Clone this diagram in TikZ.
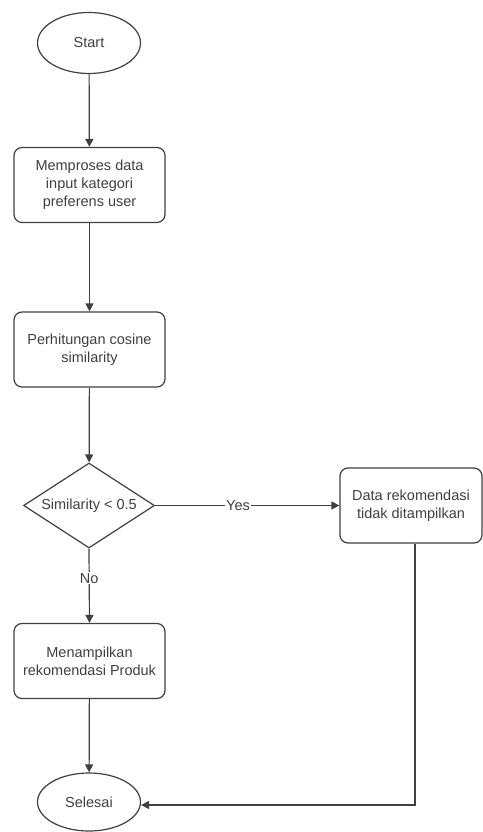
\documentclass[tikz,border=0pt]{standalone}
\usepackage{fontspec}
\setmainfont{Liberation Sans}
\usetikzlibrary{shapes.geometric,arrows.meta}
\begin{document}
\begin{tikzpicture}[x=1pt,y=-1pt,
  txt/.style={font=\fontsize{14.5}{18}\selectfont, text=black!75, align=center},
  term/.style={ellipse, draw=black!75, line width=1.2pt, minimum width=103pt, minimum height=61pt, inner sep=0pt, txt},
  proc/.style={rectangle, rounded corners=8pt, draw=black!75, line width=1.2pt, minimum width=151pt, minimum height=75pt, inner sep=2pt, txt},
  dec/.style={diamond, draw=black!75, line width=1.2pt, minimum width=131pt, minimum height=85pt, inner sep=0pt, aspect=1.54, txt},
  conn/.style={draw=black!75, line width=1.2pt, -{Triangle[length=8pt,width=8pt]}},
  lbl/.style={fill=white, inner sep=1pt, txt}]
\useasboundingbox (0,0) rectangle (482,832);
\fill[white] (0,0) rectangle (482,832);
\node[term] (start) at (89,43) {Start};
\node[proc] (p1) at (89.5,185) {Memproses data\\input kategori\\preferens user};
\node[proc] (p2) at (89.5,349.5) {Perhitungan cosine\\similarity};
\node[dec] (d) at (89,505.5) {};
\node[txt] (dtext) at (89,505.5) {Similarity < 0.5};
\node[proc, minimum width=142pt] (r) at (411,505.5) {Data rekomendasi\\tidak ditampilkan};
\node[proc] (p3) at (89.5,661) {Menampilkan\\rekomendasi Produk};
\node[term, minimum height=58pt] (end) at (89,802) {Selesai};
\coordinate (corner) at (415,805);
\draw[conn] (start) -- (p1);
\draw[conn] (p1) -- (p2);
\draw[conn] (p2) -- (d);
\draw[conn] (d.east) -- node[lbl, pos=0.45] {Yes} (r.west);
\draw[conn] (d.south) -- node[lbl, pos=0.4] {No} (p3.north);
\draw[conn] (p3) -- (end);
\draw[conn] (r.south -| corner) -- (corner) -- (end.east |- corner);
\end{tikzpicture}
\end{document}
